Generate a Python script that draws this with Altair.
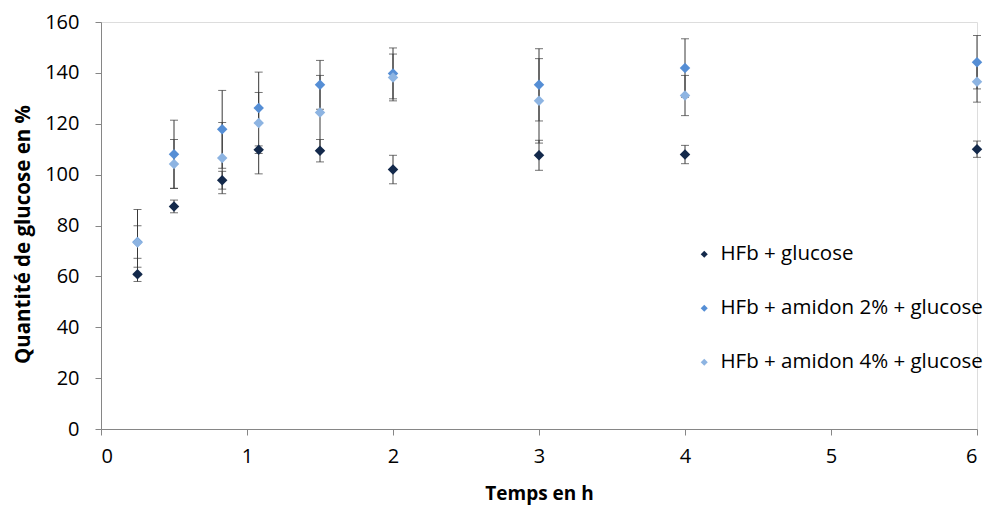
import altair as alt
import pandas as pd

times = [0.25, 0.5, 0.83, 1.08, 1.5, 2, 3, 4, 6]
series_names = ["HFb + glucose", "HFb + amidon 2% + glucose", "HFb + amidon 4% + glucose"]
hfb = [60.8, 87.5, 97.8, 109.8, 109.4, 102.0, 107.6, 107.9, 110.0]
hfb_err = [2.8, 2.5, 3.5, 1.5, 4.4, 5.6, 5.9, 3.6, 3.2]
a2 = [73.5, 108.0, 117.8, 126.2, 135.3, 139.8, 135.3, 141.9, 144.2]
a2_err = [6.4, 13.4, 15.3, 6.1, 9.6, 10.0, 14.2, 11.5, 10.5]
a4 = [73.3, 104.2, 106.5, 120.3, 124.4, 138.2, 129.0, 131.1, 136.5]
a4_err = [13.0, 9.6, 14.0, 20.0, 14.6, 9.2, 16.6, 7.9, 8.0]
colors = ["#13294b", "#558ed5", "#8db4e2"]

rows = []
for k, (name, vals, errs) in enumerate(zip(series_names, [hfb, a2, a4], [hfb_err, a2_err, a4_err])):
    for t, v, e in zip(times, vals, errs):
        rows.append({"t": t, "v": v, "lo": v - e, "hi": v + e, "serie": name, "order": k})
df = pd.DataFrame(rows)

FONT = "Open Sans"
xscale = alt.Scale(domain=[0, 6], nice=False, zero=True)
yscale = alt.Scale(domain=[0, 160], nice=False)

base = alt.Chart(df)

rules = base.mark_rule(color="#383838", strokeWidth=1).encode(
    x=alt.X("t:Q", scale=xscale),
    y=alt.Y("lo:Q", scale=yscale),
    y2="hi:Q",
)
caps_lo = base.mark_tick(color="#383838", orient="horizontal", size=8, thickness=1).encode(
    x=alt.X("t:Q", scale=xscale), y=alt.Y("lo:Q", scale=yscale)
)
caps_hi = base.mark_tick(color="#383838", orient="horizontal", size=8, thickness=1).encode(
    x=alt.X("t:Q", scale=xscale), y=alt.Y("hi:Q", scale=yscale)
)

points = base.mark_point(shape="diamond", filled=True, size=110, opacity=1).encode(
    x=alt.X(
        "t:Q",
        scale=xscale,
        title="Temps en h",
        axis=alt.Axis(
            values=[0, 1, 2, 3, 4, 5, 6],
            format="d",
            grid=False,
            domainColor="#868686",
            tickColor="#868686",
            tickSize=6,
            labelFont=FONT,
            labelFontSize=20,
            labelColor="#000000",
            labelPadding=11,
            titleFont=FONT,
            titleFontSize=19,
            titleFontWeight="bold",
            titleColor="#000000",
            titleBaseline="top",
            titleY=55,
        ),
    ),
    y=alt.Y(
        "v:Q",
        scale=yscale,
        title="Quantité de glucose en %",
        axis=alt.Axis(
            values=list(range(0, 161, 20)),
            grid=False,
            domainColor="#868686",
            tickColor="#868686",
            tickSize=6,
            labelFont=FONT,
            labelFontSize=20,
            labelColor="#000000",
            labelPadding=16,
            titleFont=FONT,
            titleFontSize=20.5,
            titleFontWeight="bold",
            titleColor="#000000",
            titleAngle=-90,
            titleAlign="center",
            titleBaseline="middle",
            titleX=-78,
            titleY=212,
        ),
    ),
    color=alt.Color(
        "serie:N",
        scale=alt.Scale(domain=series_names, range=colors),
        legend=alt.Legend(
            title=None,
            orient="none",
            legendX=593,
            legendY=222,
            symbolType="diamond",
            symbolSize=50,
            symbolStrokeWidth=0,
            labelFont=FONT,
            labelFontSize=20.5,
            labelColor="#000000",
            labelOffset=6,
            labelLimit=400,
            rowPadding=33,
        ),
    ),
    order=alt.Order("order:Q"),
)

chart = alt.layer(rules, caps_lo, caps_hi, points).properties(
    width=876,
    height=407,
    autosize=alt.AutoSizeParams(type="none"),
    padding={"left": 93, "top": 14, "right": 12, "bottom": 76},
).configure_view(stroke=None).configure(background="white")

chart.save("out.html", embed_options={"renderer": "svg", "actions": False})
